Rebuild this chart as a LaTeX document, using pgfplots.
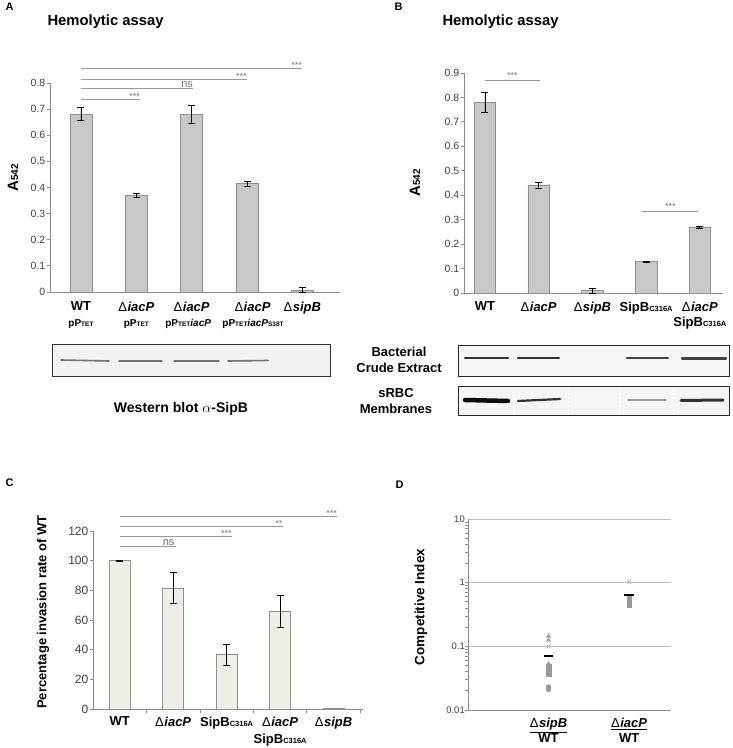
\documentclass[border=0pt]{standalone}
\usepackage{fontspec}
\setmainfont{Liberation Sans}
\usepackage{pgfplots}
\pgfplotsset{compat=1.18}

\definecolor{barg}{HTML}{C8C8C8}
\definecolor{bare}{HTML}{8F8F8F}
\definecolor{barc}{HTML}{EEEEE6}
\definecolor{axg}{HTML}{8C8C8C}
\definecolor{tickc}{HTML}{404040}
\definecolor{sigc}{HTML}{9A9A9A}

\newcommand{\fs}[1]{\fontsize{#1}{#1}\selectfont}
\newcommand{\D}{{\mdseries\upshape Δ\kern0.5pt}}
\newcommand{\La}[1]{{\fontsize{13}{15}\selectfont\bfseries #1}}
\newcommand{\Lb}[1]{{\fontsize{10}{12}\selectfont\bfseries #1}}
\newcommand{\sub}[1]{{\fontsize{6.5}{8}\selectfont\bfseries #1}}
\newcommand{\subb}[1]{{\fontsize{7.5}{8}\selectfont\bfseries #1}}

\tikzset{
  sig/.style={sigc, line width=0.8pt},
  siglab/.style={text=black!55, font=\fs{9}, inner sep=0pt},
}
\pgfplotsset{
  base/.style={
    scale only axis, anchor=south west, clip=false,
    axis x line*=bottom, axis y line*=left, tick pos=left,
    axis line style={axg, line width=0.8pt},
    tick style={axg, line width=0.8pt},
    major tick length=3pt, tick align=outside,
    major x tick style={draw=none},
    /pgf/number format/assume math mode=true,
    yticklabel style={font=\fs{10.5}, text=tickc, inner sep=1.5pt},
    xticklabel style={align=center, font=\fontsize{13}{15.5}\selectfont, text=black, inner sep=1.5pt},
  },
  barbase/.style={ybar, bar width=0.4, line width=0.8pt,
    error bars/.cd, y dir=both, y explicit,
    error bar style={black, line width=0.9pt},
    error mark options={rotate=90, black, mark size=3.5pt, line width=0.9pt}},
  barA/.style={fill=barg, draw=bare, barbase},
  barC/.style={fill=barc, draw=bare, barbase},
}

\begin{document}
\begin{tikzpicture}[x=1pt,y=1pt]
\useasboundingbox (0,0) rectangle (732,748);

% ---------------- Panel A ----------------
\node[anchor=west, font=\fs{11}\bfseries] at (2,741) {A};
\node[anchor=west, font=\fs{14.8}\bfseries] at (44,726) {Hemolytic assay};
\node[rotate=90, font=\bfseries] at (13,570) {\fs{15}A\fs{10}542};
\begin{axis}[base, at={(50pt,456pt)}, width=290pt, height=209pt,
  xmin=-0.56, xmax=4.68, ymin=0, ymax=0.8,
  ytick={0,0.1,0.2,0.3,0.4,0.5,0.6,0.7,0.8},
  xtick={0,1,2,3,4},
  xticklabel style={yshift=-5pt},
  xticklabels={
    {\La{WT}\\\Lb{pP\sub{TET}}},
    {\La{\D\textit{iacP}}\\\Lb{pP\sub{TET}}},
    {\La{\D\textit{iacP}}\\\Lb{pP\sub{TET}\textit{iacP}}\hspace*{7pt}},
    {\hspace*{11pt}\La{\D\textit{iacP}}\\\hspace*{12pt}\Lb{pP\sub{TET}\textit{iacP}\sub{S38T}}},
    {\La{\D\textit{sipB}}}}]
\addplot[barA] coordinates {
  (0,0.680) +- (0,0.025)
  (1,0.370) +- (0,0.007)
  (2,0.680) +- (0,0.035)
  (3,0.415) +- (0,0.010)
  (4,0.008) +- (0,0.008)};
\draw[sig] (axis cs:0,0.739) -- (axis cs:1.07,0.739) node[pos=1, anchor=south east, siglab, yshift=-1pt] {***};
\draw[sig] (axis cs:0,0.781) -- (axis cs:2.03,0.781) node[pos=1, anchor=south east, siglab, font=\fs{11}, yshift=0pt] {ns};
\draw[sig] (axis cs:0,0.815) -- (axis cs:3.0,0.815) node[pos=1, anchor=south east, siglab, yshift=-1pt] {***};
\draw[sig] (axis cs:0,0.857) -- (axis cs:4.0,0.857) node[pos=1, anchor=south east, siglab, yshift=-1pt] {***};
\end{axis}

% Western blot A
\draw[black!80, line width=1pt, fill=black!5] (52,371) rectangle (330,403);
\draw[black!55, line width=1.6pt, line cap=round] (61,388) -- (109,387);
\draw[black!55, line width=1.4pt, line cap=round] (119,387) -- (162,387);
\draw[black!55, line width=1.4pt, line cap=round] (174,387) -- (219,387);
\draw[black!55, line width=1.6pt, line cap=round] (228,387) -- (268,387.5);
\node[font=\fs{14}\bfseries] at (181,339) {Western blot $\alpha$-SipB};

% ---------------- Panel B ----------------
\node[anchor=west, font=\fs{11}\bfseries] at (391,741) {B};
\node[anchor=west, font=\fs{14.8}\bfseries] at (439,726) {Hemolytic assay};
\node[rotate=90, font=\bfseries] at (415,565) {\fs{15}A\fs{10}542};
\begin{axis}[base, at={(464pt,455pt)}, width=259pt, height=220pt,
  xmin=-0.39, xmax=4.43, ymin=0, ymax=0.9,
  ytick={0,0.1,0.2,0.3,0.4,0.5,0.6,0.7,0.8,0.9},
  xtick={0,1,2,3,4},
  xticklabel style={font=\fontsize{13}{15}\selectfont, yshift=-4pt},
  xticklabels={
    {\La{WT}},
    {\La{\D\textit{iacP}}},
    {\La{\D\textit{sipB}}},
    {\La{SipB\subb{C316A}}},
    {\La{\D\textit{iacP}}\\\La{SipB\subb{C316A}}}}]
\addplot[barA] coordinates {
  (0,0.780) +- (0,0.040)
  (1,0.440) +- (0,0.012)
  (2,0.010) +- (0,0.010)
  (3,0.128) +- (0,0.002)
  (4,0.270) +- (0,0.004)};
\draw[sig] (axis cs:0,0.869) -- (axis cs:1.02,0.869) node[midway, anchor=south, siglab, yshift=2pt] {***};
\draw[sig] (axis cs:2.93,0.332) -- (axis cs:3.97,0.332) node[midway, anchor=south, siglab, yshift=2pt] {***};
\end{axis}

% Western blots B
\draw[black!85, line width=1pt, fill=black!4] (458,371) rectangle (729,402);
\draw[black!80, line width=2.2pt, line cap=round] (465,390) -- (508,390);
\draw[black!80, line width=2.4pt, line cap=round] (518,390) -- (559,390);
\draw[black!75, line width=2.2pt, line cap=round] (627,390) -- (668,390);
\draw[black!75, line width=2.2pt, line cap=round] (682,389.5) -- (726,389.5);
\draw[black!85, line width=1pt, fill=black!4] (458,332) rectangle (729,361);
\draw[black!95, line width=4.5pt, line cap=round] (465,348) -- (508,347);
\draw[black!80, line width=2.2pt, line cap=round] (518,347) -- (560,349);
\draw[black!40, line width=1.2pt, line cap=round] (628,348) -- (666,348);
\draw[black!80, line width=3pt, line cap=round] (681,347.5) -- (723,348);
\foreach \xx in {514,568,619,673}{\draw[white, line width=1pt, dash pattern=on 2pt off 2pt] (\xx,333) -- (\xx,360);}
\node[align=center, font=\fontsize{13}{16}\selectfont\bfseries] at (399,388) {Bacterial\\Crude Extract};
\node[align=center, font=\fontsize{13}{16}\selectfont\bfseries] at (396,347) {sRBC\\Membranes};

% ---------------- Panel C ----------------
\node[anchor=west, font=\fs{11}\bfseries] at (2,265) {C};
\node[rotate=90, font=\fs{13}\bfseries] at (43,136) {Percentage invasion rate of WT};
\begin{axis}[base, at={(93pt,39pt)}, width=270pt, height=178pt,
  xmin=-0.5, xmax=4.55, ymin=0, ymax=120,
  ytick={0,20,40,60,80,100,120},
  yticklabel style={font=\fs{12}},
  xtick={0,1,2,3,4},
  extra x ticks={0.5,1.5,2.5,3.5,4.5},
  extra x tick labels={},
  extra x tick style={major x tick style={draw=axg}, major tick length=4pt},
  xticklabel style={font=\fontsize{13}{17}\selectfont, yshift=-3pt},
  xticklabels={
    {\La{WT}},
    {\La{\D\textit{iacP}}},
    {\La{SipB\subb{C316A}}},
    {\La{\D\textit{iacP}}\\\La{SipB\subb{C316A}}},
    {\La{\D\textit{sipB}}}}]
\addplot[barC] coordinates {
  (0,100) +- (0,0.3)
  (1,81.5) +- (0,10.5)
  (2,36.5) +- (0,7.2)
  (3,65.5) +- (0,10.8)};
\addplot[ybar, bar width=0.4, fill=barc, draw=bare, line width=0.8pt] coordinates {(4,0.3)};
\draw[sig] (axis cs:0,109.8) -- (axis cs:1.05,109.8) node[pos=1, anchor=south east, siglab, font=\fs{11}, xshift=-1pt] {ns};
\draw[sig] (axis cs:0,116.5) -- (axis cs:2.1,116.5) node[pos=1, anchor=south east, siglab, yshift=-1pt] {***};
\draw[sig] (axis cs:0,123.2) -- (axis cs:3.05,123.2) node[pos=1, anchor=south east, siglab, yshift=-1pt] {**};
\draw[sig] (axis cs:0,130) -- (axis cs:4.07,130) node[pos=1, anchor=south east, siglab, yshift=-1pt] {***};
\end{axis}

% ---------------- Panel D ----------------
\node[anchor=west, font=\fs{11}\bfseries] at (392,263) {D};
\node[rotate=90, font=\fs{13.5}\bfseries] at (421,141) {Competitive Index};
\begin{axis}[base, at={(468pt,38pt)}, width=203pt, height=191pt,
  ymode=log, ymin=0.01, ymax=10, xmin=0, xmax=2.52,
  ytick={0.01,0.1,1,10}, yticklabels={0.01,0.1,1,10},
  major tick length=0pt,
  ymajorgrids, major grid style={black!25, line width=0.8pt},
  yticklabel style={font=\fs{9.5}, inner sep=3pt},
  xtick={1,2},
  xticklabel style={font=\fontsize{13}{15}\selectfont, inner sep=3pt, yshift=-5pt},
  xticklabels={
    {\La{\underline{\D\textit{sipB}}}\\\La{WT}},
    {\La{\underline{\D\textit{iacP}}}\\\La{WT}}}]
\addplot[only marks, mark=triangle*, mark size=2.6pt, black!35] coordinates {(1,0.145) (1,0.125)};
\addplot[only marks, mark=x, mark size=2.8pt, black!30, line width=0.7pt] coordinates {(1,0.1) (2,1.03)};
\addplot[only marks, mark=diamond*, mark size=2.6pt, black!40] coordinates {(1,0.052) (1,0.046) (1,0.041) (2,0.56) (2,0.50) (2,0.46)};
\addplot[only marks, mark=square*, mark size=2.2pt, black!40] coordinates {(1,0.049) (1,0.043) (1,0.037) (2,0.58) (2,0.53) (2,0.48) (2,0.44)};
\addplot[only marks, mark=*, mark size=2.4pt, black!40] coordinates {(1,0.023) (1,0.021)};
\addplot[only marks, mark=-, mark size=4.8pt, black, line width=2.3pt] coordinates {(1,0.07) (2,0.64)};
\end{axis}
\end{tikzpicture}
\end{document}
